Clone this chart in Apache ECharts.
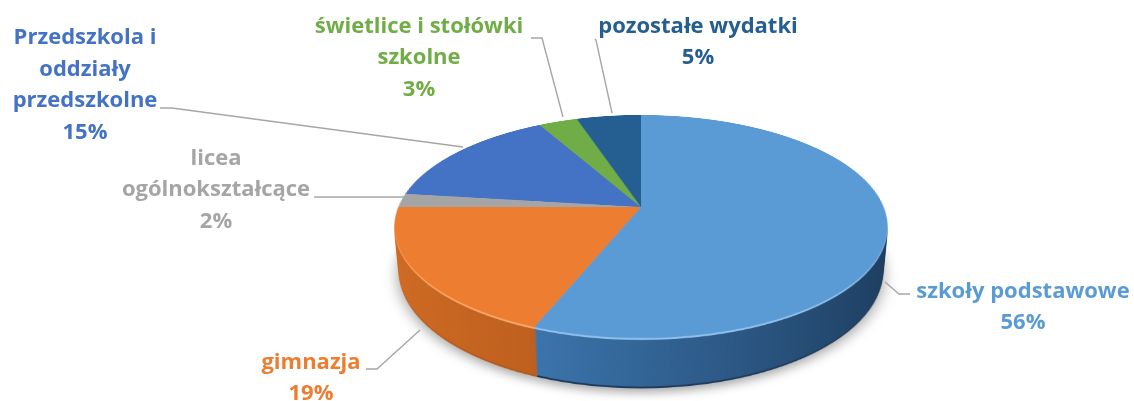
<!DOCTYPE html>
<html><head><meta charset="utf-8">
<script src="https://cdn.jsdelivr.net/npm/echarts@6/dist/echarts.min.js"></script>
<style>
html,body{margin:0;padding:0;background:#fff;width:1134px;height:401px;overflow:hidden;}
#scene{position:absolute;left:0;top:0;width:1134px;height:401px;perspective:1241px;perspective-origin:641px 207px;}
#disk{position:absolute;left:381px;top:-53px;width:520px;height:520px;transform-style:preserve-3d;transform:rotateX(63.55deg);transform-origin:50% 50% 0;}
.layer{position:absolute;left:0;top:0;width:520px;height:520px;}
#labels{position:absolute;left:0;top:0;width:1134px;height:401px;z-index:10;}
</style></head><body>
<div id="scene"><div id="disk"></div></div>
<div id="labels"></div>
<script>
// ---- data ----
const categories = ['szkoły podstawowe', 'gimnazja', 'licea\nogólnokształcące', 'Przedszkola i\noddziały\nprzedszkolne', 'świetlice i stołówki\nszkolne', 'pozostałe wydatki'];
const values = [56, 19, 2, 15, 3, 5];

// ---- styles ----
const topColors = ['#5B9BD5', '#ED7D31', '#A5A5A5', '#4472C4', '#70AD47', '#255E91'];
const rimColors = ['#8FC0EC', '#F8A86C', '#C9C9C9', '#7599DC', '#9BCD78', '#4B82B6'];
const sideLeft = ['#3B74AC', '#D06B24', '#8E8E8E', '#33579C', '#588C3C', '#1E4C77'];
const sideRight = ['#1D3C5E', '#B5591C', '#777777', '#27457F', '#46722D', '#173C5F'];
const labelColors = ['#5B9BD5', '#ED7D31', '#A5A5A5', '#4472C4', '#70AD47', '#255E91'];
const labelLayouts = [
  {x: 1023, y: 307, line: [[885, 282], [899, 294], [910, 294]]},
  {x: 311, y: 378, line: [[420, 330], [377, 369], [366, 369]]},
  {x: 216, y: 190, line: [[404, 197], [318, 197], [314, 197]]},
  {x: 85, y: 85, line: [[463, 147], [172, 108], [160, 108]]},
  {x: 419, y: 58, line: [[563, 117], [542, 38], [531, 38]]},
  {x: 698, y: 42, line: [[612, 113], [596, 40], [595, 39]]}
];
const R = 242.7, S = 520, DEPTH = 50, LAYERS = 26;

function pieSeries(colorFn, extra) {
  return Object.assign({
    type: 'pie', center: [S / 2, S / 2], radius: [0, R], startAngle: 90, clockwise: true,
    silent: true, animation: false, label: {show: false}, labelLine: {show: false},
    emphasis: {disabled: true},
    data: values.map((v, i) => ({name: categories[i], value: v, itemStyle: {color: colorFn(i)}}))
  }, extra || {});
}

const disk = document.getElementById('disk');
function addLayer(z, series) {
  const d = document.createElement('div');
  d.className = 'layer';
  d.style.transform = 'translateZ(' + z + 'px)';
  disk.appendChild(d);
  const c = echarts.init(d, null, {renderer: 'canvas', devicePixelRatio: 2});
  c.setOption({animation: false, series: [series]});
}
// bottom (with soft shadow)
addLayer(-DEPTH, pieSeries(i => sideRight[i], {itemStyle: {shadowBlur: 14, shadowColor: 'rgba(0,0,0,0.35)', shadowOffsetY: 6}}));
for (let k = LAYERS - 1; k >= 1; k--) {
  const z = -DEPTH * k / LAYERS;
  if (k === 1) {
    addLayer(z, pieSeries(i => rimColors[i]));
  } else {
    addLayer(z, pieSeries(i => ({type: 'linear', x: 0, y: 0, x2: 1, y2: 0,
      colorStops: [{offset: 0, color: sideLeft[i]}, {offset: 1, color: sideRight[i]}]})));
  }
}
addLayer(0, pieSeries(i => topColors[i]));

// ---- labels ----
const lc = echarts.init(document.getElementById('labels'), null, {renderer: 'canvas'});
lc.setOption({
  animation: false,
  series: [{
    type: 'pie', center: [641, 230], radius: [0, 100], startAngle: 90, clockwise: true,
    percentPrecision: 0, silent: true,
    itemStyle: {color: 'rgba(0,0,0,0)'},
    label: {show: true, position: 'outside', formatter: '{b}\n{d}%',
      fontFamily: 'Open Sans', fontWeight: 'bold', fontSize: 22, lineHeight: 31.5, align: 'center'},
    labelLine: {show: true, length: 10, length2: 10, lineStyle: {color: '#A6A6A6', width: 1.4}},
    labelLayout: function (p) {
      const L = labelLayouts[p.dataIndex];
      return {x: L.x, y: L.y, align: 'center', verticalAlign: 'middle', labelLinePoints: L.line};
    },
    data: values.map((v, i) => ({name: categories[i], value: v, label: {color: labelColors[i]}}))
  }]
});
</script>
</body></html>
